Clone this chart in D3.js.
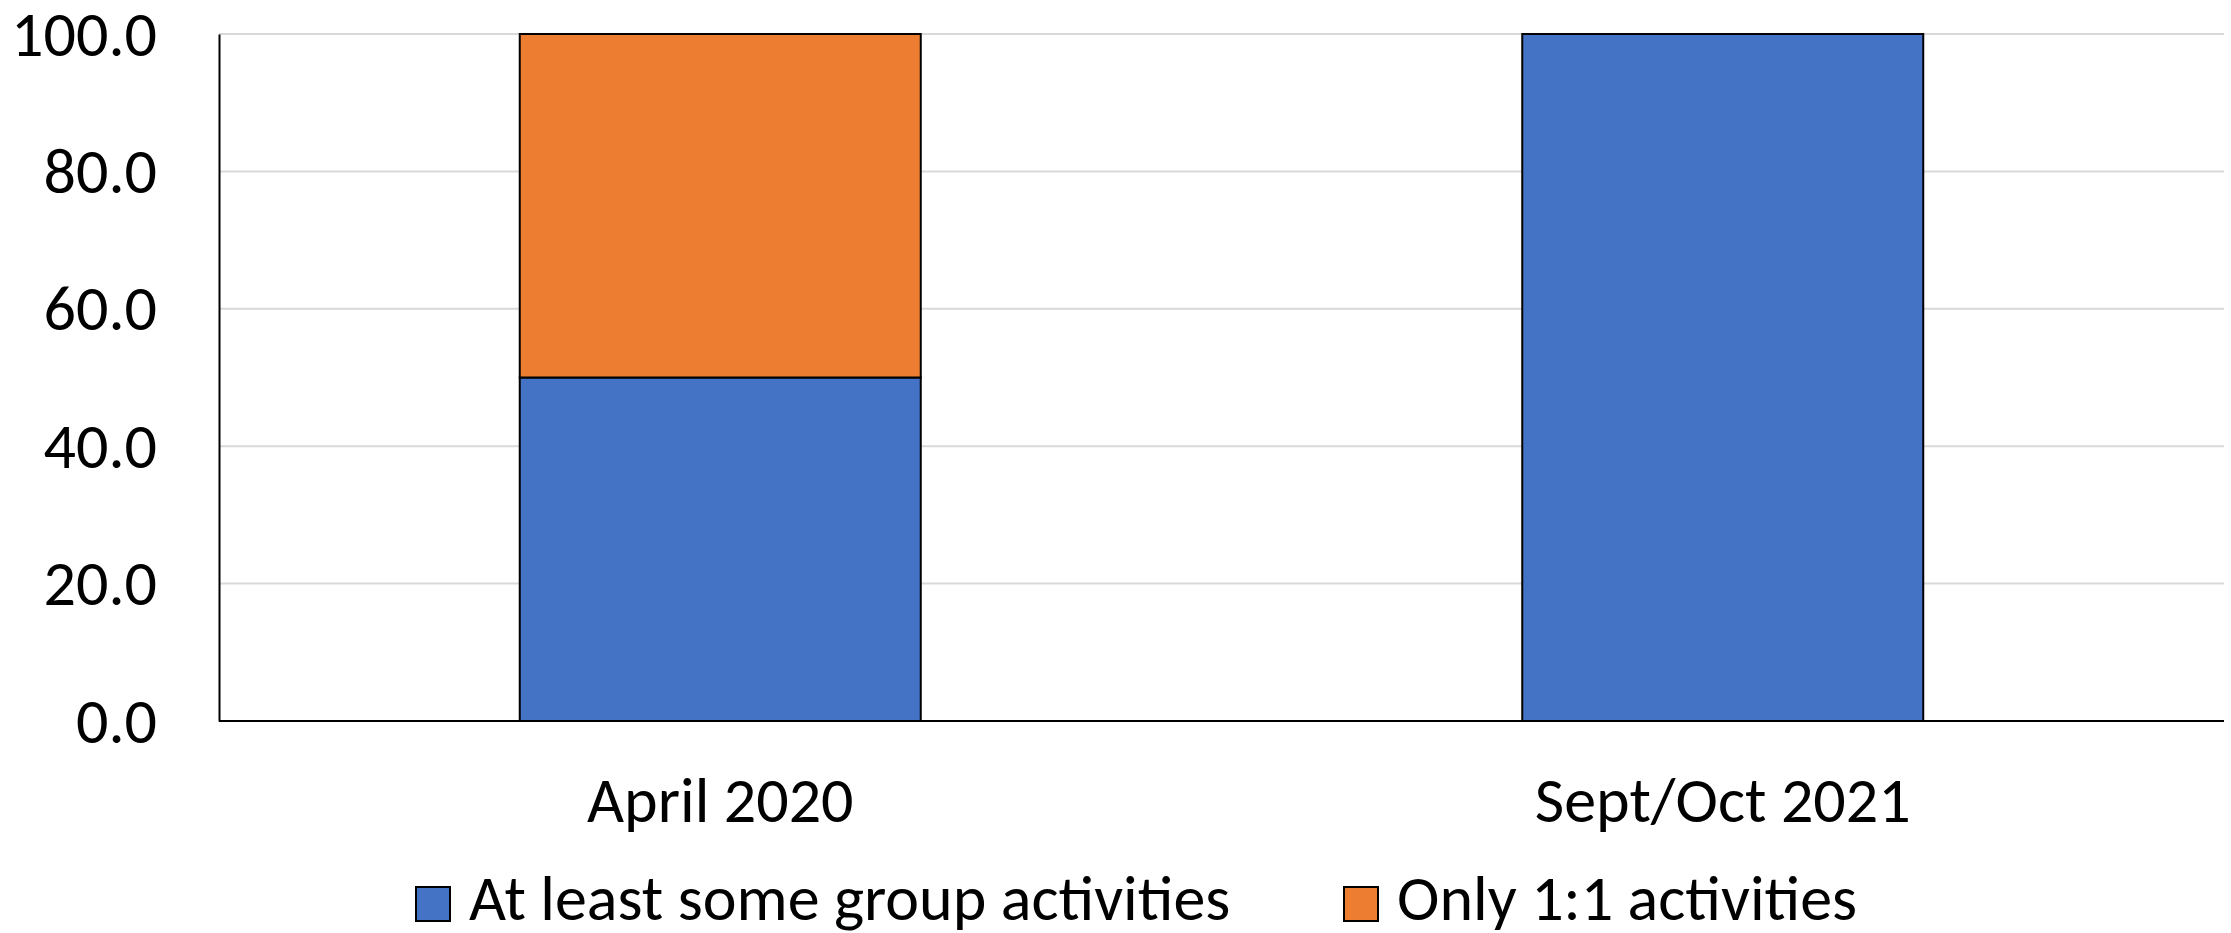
<!DOCTYPE html>
<html><head><meta charset="utf-8">
<script src="https://cdn.jsdelivr.net/npm/d3@7"></script>
<style>
html,body{margin:0;padding:0;background:#fff;}
text{font-family:Carlito,Calibri,Lato,sans-serif;fill:#000;}
</style></head>
<body>
<svg id="chart" width="2231" height="933"></svg>
<script>
const categories = ["April 2020", "Sept/Oct 2021"];
const seriesNames = ["At least some group activities", "Only 1:1 activities"];
const groupActivities = [50.0, 100.0];
const oneToOneActivities = [50.0, 0.0];
const yTicks = [0, 20, 40, 60, 80, 100];
const colors = ["#4472C4", "#ED7D31"];

const svg = d3.select("#chart");
const m = {left: 219, top: 34, right: 2224, bottom: 721};
const fs = 64;
const ff = 'Carlito,Calibri,Lato,sans-serif';

const x = d3.scaleBand().domain(categories).range([m.left, m.right]).paddingInner(0.6).paddingOuter(0.3);
const y = d3.scaleLinear().domain([0, 100]).range([m.bottom, m.top]);

// gridlines
svg.append("g").selectAll("line").data(yTicks.filter(d => d > 0)).join("line")
  .attr("x1", m.left).attr("x2", m.right)
  .attr("y1", d => y(d)).attr("y2", d => y(d))
  .attr("stroke", "#d9d9d9").attr("stroke-width", 2);

// stacked data
const rows = categories.map((c, i) => ({cat: c, g: groupActivities[i], o: oneToOneActivities[i]}));
const stack = d3.stack().keys(["g", "o"])(rows);

svg.append("g").selectAll("g").data(stack).join("g")
  .attr("fill", (d, i) => colors[i])
  .selectAll("rect").data(d => d.filter(p => p[1] - p[0] > 0)).join("rect")
  .attr("x", d => x(d.data.cat))
  .attr("width", x.bandwidth())
  .attr("y", d => y(d[1]))
  .attr("height", d => y(d[0]) - y(d[1]))
  .attr("stroke", "#000").attr("stroke-width", 2);

// y axis
const yAxis = d3.axisLeft(y).tickValues(yTicks).tickFormat(d3.format(".1f")).tickSize(0).tickPadding(62);
const ya = svg.append("g").attr("transform", `translate(${m.left},0)`).call(yAxis);
ya.select(".domain").attr("stroke", "#000").attr("stroke-width", 2);
ya.selectAll("text").attr("font-size", fs).style("font-family", ff).attr("dy", "0.33em");

// x axis
const xAxis = d3.axisBottom(x).tickSize(0).tickPadding(56);
const xa = svg.append("g").attr("transform", `translate(0,${m.bottom})`).call(xAxis);
xa.select(".domain").attr("stroke", "#000").attr("stroke-width", 2).attr("d", `M${m.left},0H${m.right}`);
xa.selectAll("text").attr("font-size", fs).style("font-family", ff);

// legend
const legendX = [416, 1344];
const lg = svg.append("g");
seriesNames.forEach((s, i) => {
  lg.append("rect").attr("x", legendX[i]).attr("y", 887).attr("width", 34).attr("height", 34)
    .attr("fill", colors[i]).attr("stroke", "#000").attr("stroke-width", 2);
  lg.append("text").attr("x", legendX[i] + 53).attr("y", 920).attr("font-size", fs).style("font-family", ff).text(s);
});
</script>
</body></html>
